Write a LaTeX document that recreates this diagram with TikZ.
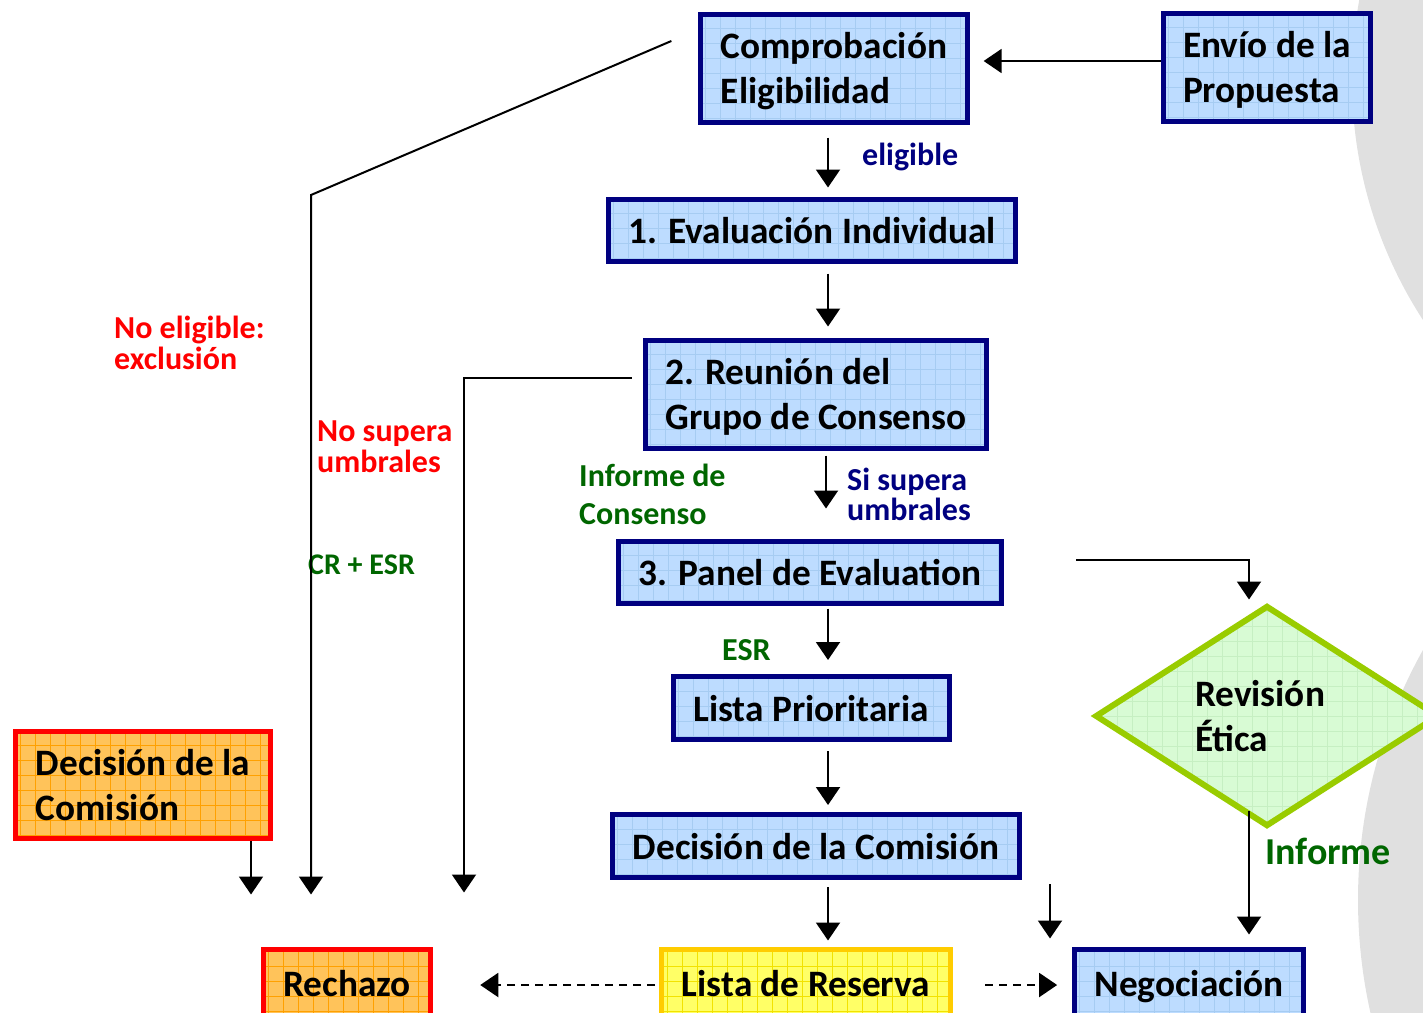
\documentclass[tikz,border=0pt]{standalone}
\usepackage{fontspec}
\setmainfont{Carlito}
\usetikzlibrary{arrows.meta,shapes.geometric}
\definecolor{navy}{HTML}{000080}
\definecolor{boxblue}{HTML}{BDDCFF}
\definecolor{gridblue}{HTML}{A6CCF2}
\definecolor{orangefill}{HTML}{FFC35A}
\definecolor{gridorange}{HTML}{FFA000}
\definecolor{yellowfill}{HTML}{FFFF66}
\definecolor{gridyellow}{HTML}{F2E200}
\definecolor{gold}{HTML}{FFCC00}
\definecolor{lime}{HTML}{99CC00}
\definecolor{mint}{HTML}{D8FBD4}
\definecolor{gridmint}{HTML}{C6EFC2}
\definecolor{darkgreen}{HTML}{006600}
\definecolor{bggrey}{HTML}{E0E0E0}
\newcommand\boxfont{\fontsize{37.3}{45}\selectfont\bfseries}
\newcommand\lblfont{\fontsize{32}{31}\selectfont\bfseries}
\begin{document}
\begin{tikzpicture}[x=1pt,y=-1pt,
  gridfill/.style={path picture={\draw[#1,line width=0.8pt] (path picture bounding box.south west) grid[step=15pt] (path picture bounding box.north east);}},
  bluebox/.style={draw=navy,line width=5pt,fill=boxblue,gridfill=gridblue,font=\boxfont,inner xsep=20pt,inner ysep=0pt,align=left,text depth=-6pt},
  orangebox/.style={bluebox,draw=red,fill=orangefill,gridfill=gridorange},
  yellowbox/.style={bluebox,draw=gold,fill=yellowfill,gridfill=gridyellow},
  lbl/.style={font=\lblfont,align=left,inner sep=0pt,anchor=west},
  arr/.style={-{Triangle[length=18pt,width=24pt]},line width=2pt},
  darr/.style={arr,dash pattern=on 8pt off 6pt}]
\useasboundingbox (0,0) rectangle (1423,1012);
\clip (0,0) rectangle (1423,1012);
\fill[bggrey] (1793,80) circle (441pt);
\fill[bggrey] (1871,900) circle (513pt);

\node[bluebox,minimum width=266pt,minimum height=108pt] (comp) at (834,68) {Comprobación\\Eligibilidad};
\node[bluebox,minimum width=207pt,minimum height=108pt] (envio) at (1267,67) {Envío de la\\Propuesta};
\node[bluebox,minimum width=406pt,minimum height=62pt] (eval) at (812,230) {1. Evaluación Individual};
\node[bluebox,minimum width=341pt,minimum height=108pt] (reun) at (816,394) {2. Reunión del\\Grupo de Consenso};
\node[bluebox,minimum width=381pt,minimum height=62pt] (panel) at (810,572) {3. Panel de Evaluation};
\node[bluebox,minimum width=276pt,minimum height=63pt] (prio) at (811,708) {Lista Prioritaria};
\node[bluebox,minimum width=407pt,minimum height=63pt] (dec) at (816,846) {Decisión de la Comisión};
\node[bluebox,minimum width=228pt,minimum height=68pt] (neg) at (1189,983) {Negociación};
\node[yellowbox,minimum width=289pt,minimum height=68pt] (reserva) at (806,983) {Lista de Reserva};
\node[orangebox,minimum width=166pt,minimum height=68pt] (rech) at (347,983) {Rechazo};
\node[orangebox,minimum width=254pt,minimum height=107pt] (decc) at (143,785) {Decisión de la\\Comisión};
\node[diamond,draw=lime,line width=6pt,fill=mint,gridfill=gridmint,minimum width=344pt,minimum height=221pt,shape aspect=1.56,inner sep=0pt,font=\boxfont,text width=144pt,align=left] (etica) at (1267,716) {Revisión\\Ética};

\node[lbl,navy] (elig) at (862,157) {eligible};
\node[lbl,red] (nelig) at (114,343) {No eligible:\\exclusión};
\node[lbl,red] (nsup) at (317,447) {No supera\\umbrales};
\node[lbl,darkgreen,font=\fontsize{30}{31}\selectfont\bfseries] (cresr) at (308,565) {CR + ESR};
\node[lbl,darkgreen,font=\fontsize{32}{38}\selectfont\bfseries] (infc) at (579,494) {Informe de\\Consenso};
\node[lbl,navy,font=\fontsize{32}{30}\selectfont\bfseries] (sisup) at (847,494) {Si supera\\umbrales};
\node[lbl,darkgreen] (esr) at (722,650) {ESR};
\node[lbl,darkgreen,font=\fontsize{38}{40}\selectfont\bfseries] (inf) at (1265,851) {Informe};

\coordinate (ax) at (828,0);
\coordinate (bx) at (826,0);
\coordinate (dx) at (251,0);
\coordinate (ex) at (1249,0);
\coordinate (st) at (1050,884);
\coordinate (k1) at (311,195);
\coordinate (k2) at (464,0);
\draw[arr,shorten >=14pt] ([yshift=6pt]envio.west) -- ([yshift=7pt]comp.east);
\draw[arr,shorten <=13pt,shorten >=9pt] (comp.south -| ax) -- (eval.north -| ax);
\draw[arr,shorten <=10pt,shorten >=11pt] (eval.south -| ax) -- (reun.north -| ax);
\draw[arr,shorten <=5pt,shorten >=30pt] (reun.south -| bx) -- (panel.north -| bx);
\draw[arr,shorten <=3pt,shorten >=14pt] (panel.south -| ax) -- (prio.north -| ax);
\draw[arr,shorten <=9pt,shorten >=7pt] (prio.south -| ax) -- (dec.north -| ax);
\draw[arr,shorten <=7pt,shorten >=6pt] (dec.south -| ax) -- (reserva.north -| ax);
\draw[arr,shorten >=8pt] (st) -- (st |- neg.north);
\draw[arr,shorten >=3pt] ([xshift=72pt,yshift=12pt]panel.east) -| (etica.north -| ex);
\draw[arr,shorten <=-19pt,shorten >=12pt] (etica.south -| ex) -- (neg.north -| ex);
\draw[darr,shorten <=4pt,shorten >=47pt] ([yshift=-2pt]reserva.west) -- ([yshift=-2pt]rech.east);
\draw[darr,shorten <=32pt,shorten >=15pt] ([yshift=-2pt]reserva.east) -- ([yshift=-2pt]neg.west);
\draw[arr,shorten >=52pt] (decc.south -| dx) -- (rech.north -| dx);
\draw[arr,shorten >=52pt] ([xshift=-27pt,yshift=27pt]comp.west) -- (k1) -- (k1 |- rech.north);
\draw[arr,shorten >=54pt] ([xshift=-11pt,yshift=16pt]reun.west) -| (k2 |- rech.north);
\end{tikzpicture}
\end{document}
